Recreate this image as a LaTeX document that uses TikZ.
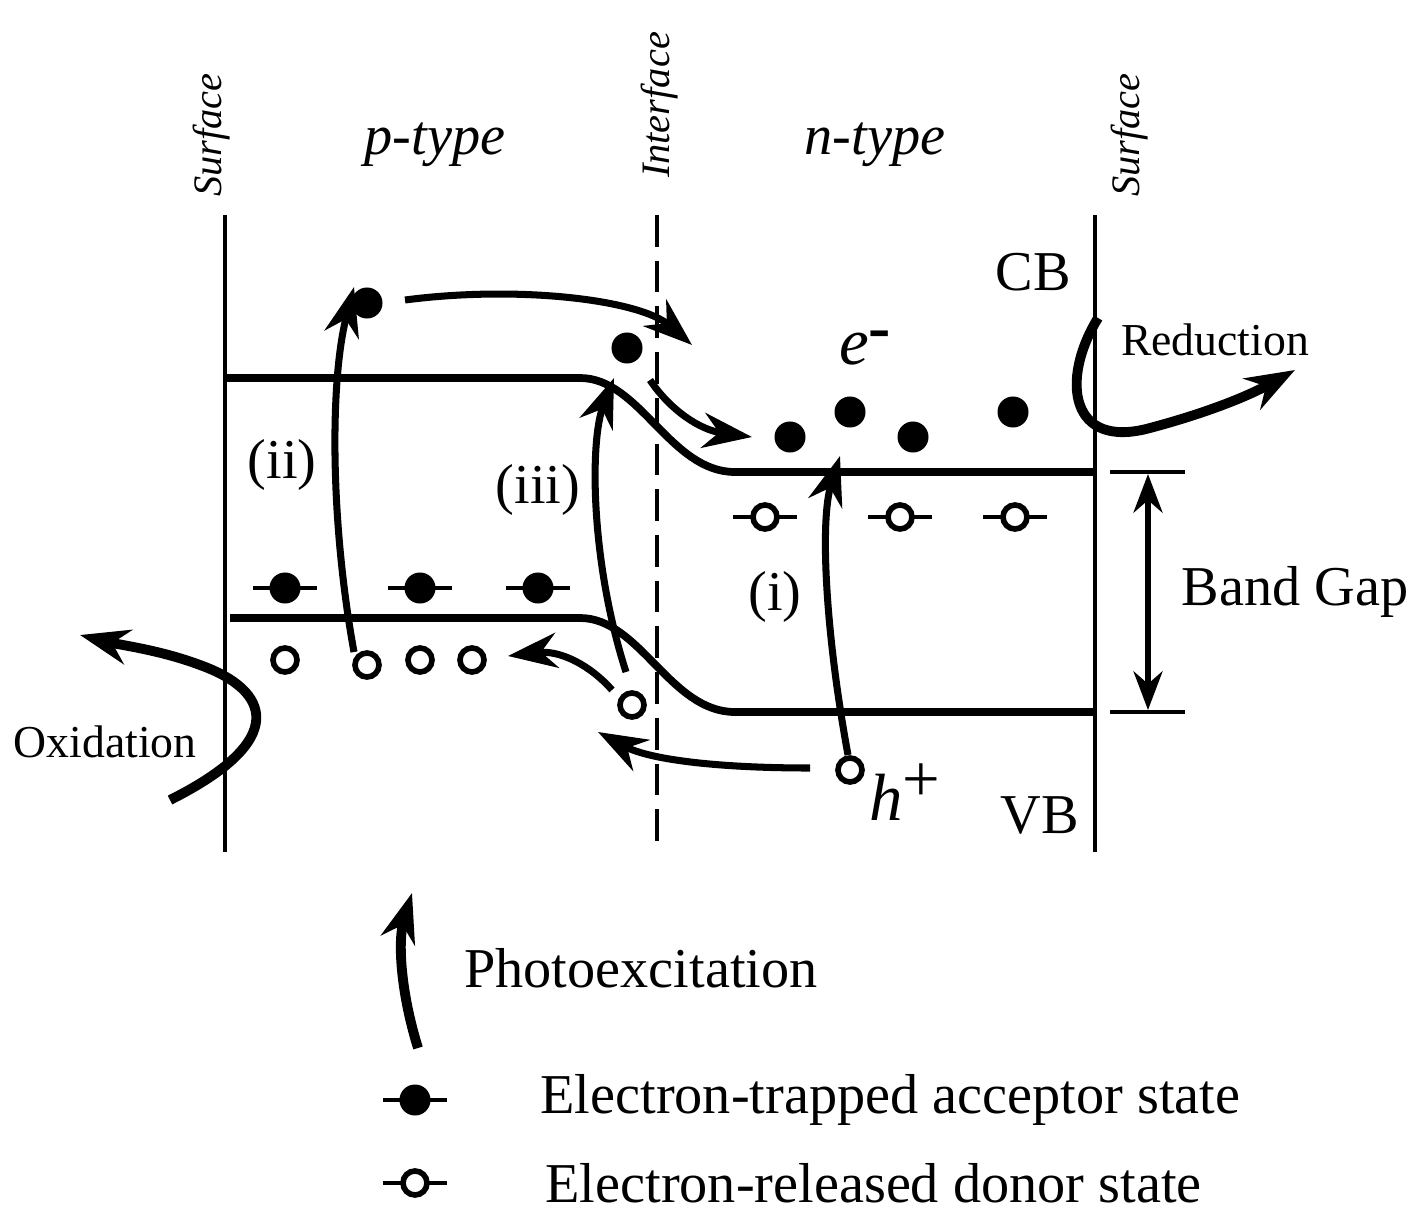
\documentclass[tikz,border=0pt]{standalone}
\usepackage{fontspec}
\setmainfont{Liberation Serif}
\usetikzlibrary{arrows.meta}
\begin{document}
\begin{tikzpicture}[x=0.01cm,y=-0.01cm,
  band/.style={line width=2.2pt},
  wall/.style={line width=1.4pt},
  arr/.style={line width=2pt,-{Stealth[length=14pt,width=10pt]}},
  fdot/.style={circle,fill=black,inner sep=0pt,minimum size=0.31cm},
  odot/.style={circle,draw=black,line width=1.6pt,fill=white,inner sep=0pt,minimum size=0.24cm},
  big/.style={font=\fontsize{16}{18}\selectfont},
  small/.style={font=\itshape\fontsize{11.5}{13}\selectfont}]
\useasboundingbox (0,0) rectangle (1421,1218);
% walls
\draw[wall] (225,215) -- (225,852);
\draw[wall] (1095,215) -- (1095,852);
\draw[wall,dash pattern=on 9pt off 4pt] (657,215) -- (657,855);
\node[small,rotate=90] (s1) at (212,135) {Surface};
\node[small,rotate=90] (s2) at (660,105) {Interface};
\node[small,rotate=90] (s3) at (1130,135) {Surface};
\node[font=\itshape\fontsize{16}{18}\selectfont] (pt) at (435,145) {p-type};
\node[font=\itshape\fontsize{16}{18}\selectfont] (nt) at (875,145) {n-type};
% bands
\draw[band] (225,378) -- (580,378) .. controls (640,378) and (670,472) .. (735,472) -- (1095,472);
\draw[band] (230,618) -- (580,618) .. controls (640,618) and (670,712) .. (735,712) -- (1095,712);
% band gap
\draw[wall] (1110,472) -- (1185,472);
\draw[wall] (1110,712) -- (1185,712);
\draw[line width=1.5pt,{Stealth[length=11pt]}-{Stealth[length=11pt]}] (1148,474) -- (1148,710);
\node[big] (bg) at (1295,592) {Band Gap};
\node[big] (cb) at (1033,272) {CB};
\node[big] (vb) at (1040,815) {VB};
% acceptor/donor states
\foreach \x/\n in {285/a1,420/a2,538/a3}{\draw[wall] (\x-32,588) -- (\x+32,588); \node[fdot] (\n) at (\x,588) {};}
\foreach \x/\n in {765/d1,900/d2,1015/d3}{\draw[wall] (\x-32,517) -- (\x+32,517); \node[odot] (\n) at (\x,517) {};}
% electrons
\node[fdot] (e1) at (367,303) {};
\node[fdot] (e2) at (627,348) {};
\node[fdot] (e3) at (790,437) {};
\node[fdot] (e4) at (850,412) {};
\node[fdot] (e5) at (913,437) {};
\node[fdot] (e6) at (1013,412) {};
\node[font=\itshape\fontsize{19}{21}\selectfont] (em) at (865,348) {e\raisebox{0.5ex}{\upshape\textbf{-}}};
% holes
\node[odot] (h1) at (285,660) {};
\node[odot] (h2) at (367,665) {};
\node[odot] (h3) at (420,660) {};
\node[odot] (h4) at (472,660) {};
\node[odot] (h5) at (632,705) {};
\node[odot] (h6) at (850,770) {};
\node[font=\itshape\fontsize{19}{21}\selectfont] (hp) at (905,792) {h\raisebox{0.6ex}{\upshape +}};
% excitation arrows
\coordinate (iis) at (354,652);
\coordinate (iiis) at (626,672);
\coordinate (is) at (848,755);
\draw[arr] (iis) .. controls (330,520) and (330,380) .. (354,287);
\draw[arr] (iiis) .. controls (590,560) and (590,440) .. (614,378);
\draw[arr] (is) .. controls (825,630) and (820,520) .. (840,456);
\node[big] (lii) at (282,465) {(ii)};
\node[big] (liii) at (538,490) {(iii)};
\node[big] (li) at (775,597) {(i)};
% transfer arrows
\coordinate (t1) at (405,300);
\draw[arr] (t1) .. controls (520,285) and (640,300) .. (692,345);
\coordinate (t2) at (650,380);
\draw[arr] (t2) .. controls (670,410) and (700,430) .. (752,437);
\coordinate (t3) at (612,690);
\draw[arr] (t3) .. controls (590,665) and (560,650) .. (508,656);
\coordinate (t4) at (810,768);
\draw[arr] (t4) .. controls (720,768) and (650,760) .. (598,732);
% reduction
\coordinate (r0) at (1098,318);
\draw[arr,line width=2.8pt] (r0) .. controls (1060,380) and (1070,450) .. (1150,428) .. controls (1210,412) and (1250,395) .. (1295,370);
\node[font=\fontsize{13}{15}\selectfont] (red) at (1215,340) {Reduction};
% oxidation
\coordinate (o0) at (170,800);
\draw[arr,line width=2.8pt] (o0) .. controls (290,740) and (270,690) .. (200,665) .. controls (160,650) and (120,645) .. (80,635);
\node[font=\fontsize{13}{15}\selectfont] (ox) at (105,742) {Oxidation};
% photoexcitation legend
\coordinate (p0) at (418,1048);
\draw[arr,line width=2.8pt] (p0) .. controls (400,990) and (398,940) .. (412,893);
\node[big,anchor=west] (pe) at (452,968) {Photoexcitation};
\draw[wall] (383,1100) -- (447,1100); \node[fdot] (lf) at (415,1100) {};
\draw[wall] (383,1183) -- (447,1183); \node[odot] (lo) at (415,1183) {};
\node[big,anchor=west] (l1) at (528,1100) {Electron-trapped acceptor state};
\node[big,anchor=west] (l2) at (533,1183) {Electron-released donor state};
\end{tikzpicture}
\end{document}
